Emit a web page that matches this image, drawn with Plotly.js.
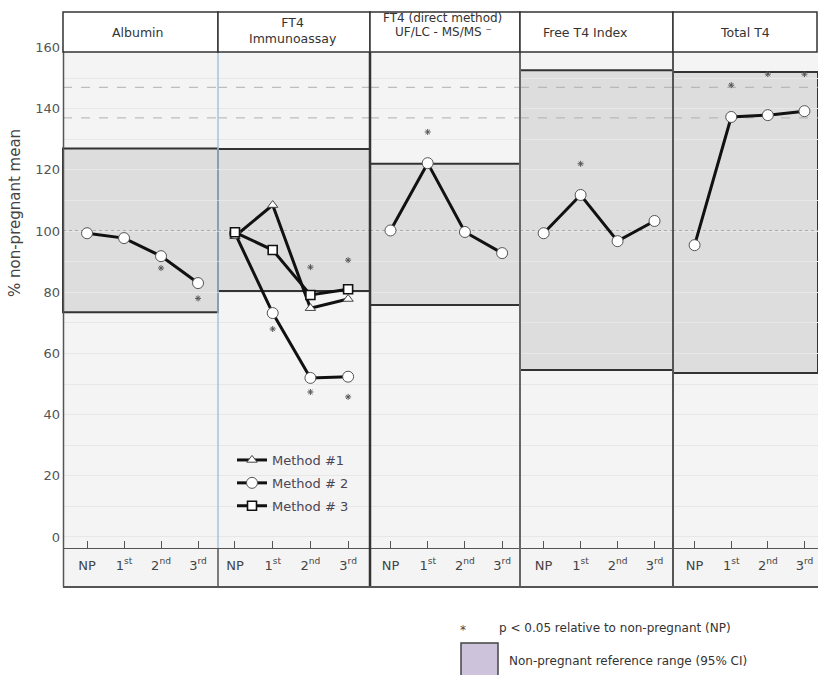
<!DOCTYPE html>
<html><head><meta charset="utf-8">
<script src="https://cdn.plot.ly/plotly-3.0.1.min.js"></script>
<style>html,body{margin:0;padding:0;background:#fff}#chart{width:818px;height:675px}</style>
</head><body><div id="chart"></div>
<script>
// ---- data ----
const stageIndex = [0, 1, 2, 3];
const stageLabels = ['NP', '1<sup>st</sup>', '2<sup>nd</sup>', '3<sup>rd</sup>'];
const methodNames = ['Method #1', 'Method # 2', 'Method # 3'];
const albumin = [99.3, 97.7, 91.8, 83.0];
const albuminSig = [null, null, 87.9, 78.0];
const ft4ImmMethod1 = [98.3, 108.5, 74.8, 77.8];
const ft4ImmMethod2 = [99.3, 73.2, 52.0, 52.4];
const ft4ImmMethod3 = [99.6, 93.8, 79.1, 81.0];
const ft4ImmSigUpper = [null, null, 88.2, 90.5];
const ft4ImmSigLower = [null, 68.0, 47.4, 45.8];
const ft4Direct = [100.2, 122.2, 99.7, 92.8];
const ft4DirectSig = [null, 132.4, null, null];
const freeT4Index = [99.3, 111.8, 96.7, 103.3];
const freeT4IndexSig = [null, 122.0, null, null];
const totalT4 = [95.4, 137.3, 137.9, 139.2];
const totalT4Sig = [null, 147.7, 151.3, 151.3];
const refLow = [73.5, 80.4, 75.8, 54.6, 53.6];
const refHigh = [127.0, 126.8, 122.0, 152.6, 152.0];
const yTicks = [0, 20, 40, 60, 80, 100, 120, 140, 160];

// ---- geometry (pixels -> paper) ----
const W = 818, H = 675, ML = 63, MR = 0, MT = 46, MB = 127;
const PW = W - ML - MR, PH = H - MT - MB;
const px = x => (x - ML) / PW;
const py = y => (H - MB - y) / PH;
const edges = [63, 218, 370, 520, 673, 818];
const xRanges = [[-0.65, 3.54], [-0.45, 3.58], [-0.55, 3.48], [-0.64, 3.5], [-0.59, 3.37]];
const FONT = 'DejaVu Sans';

const lineStyle = {color: '#111', width: 3};
const circ = {symbol: 'circle', size: 11, color: '#fff', line: {color: '#555', width: 1}};
const tri = {symbol: 'triangle-up', size: 9, color: '#fff', line: {color: '#444', width: 1}};
const sq = {symbol: 'square', size: 9, color: '#fff', line: {color: '#111', width: 1.6}};
const star = {symbol: 'asterisk-open', size: 5, color: '#555', line: {color: '#555', width: 1}};

function ser(xa, y, marker, name, legend) {
  return {x: stageIndex, y: y, xaxis: xa, yaxis: 'y', type: 'scatter', mode: 'lines+markers',
    line: lineStyle, marker: marker, name: name || '', showlegend: !!legend,
    legendgroup: name || undefined, hoverinfo: 'skip', cliponaxis: false};
}
function sig(xa, y) {
  return {x: stageIndex, y: y, xaxis: xa, yaxis: 'y', type: 'scatter', mode: 'markers',
    marker: star, showlegend: false, hoverinfo: 'skip', cliponaxis: false};
}

const traces = [
  ser('x', albumin, circ), sig('x', albuminSig),
  ser('x2', ft4ImmMethod1, tri, methodNames[0], true),
  ser('x2', ft4ImmMethod2, circ, methodNames[1], true),
  ser('x2', ft4ImmMethod3, sq, methodNames[2], true),
  sig('x2', ft4ImmSigUpper), sig('x2', ft4ImmSigLower),
  ser('x3', ft4Direct, circ), sig('x3', ft4DirectSig),
  ser('x4', freeT4Index, circ), sig('x4', freeT4IndexSig),
  ser('x5', totalT4, circ), sig('x5', totalT4Sig)
];

const layout = {
  width: W, height: H, margin: {l: ML, r: MR, t: MT, b: MB},
  paper_bgcolor: '#fff', plot_bgcolor: 'rgba(0,0,0,0)',
  font: {family: FONT, color: '#444'},
  showlegend: true,
  legend: {x: px(232), y: py(445), xanchor: 'left', yanchor: 'top', bgcolor: 'rgba(0,0,0,0)',
    font: {family: FONT, size: 13, color: '#4a4454'}, tracegroupgap: 3, itemwidth: 30},
  yaxis: {range: [-3.6, 160.5], tickvals: yTicks, showgrid: true, gridcolor: '#e7e7e7', gridwidth: 1,
    minor: {dtick: 10, showgrid: true, gridcolor: '#e7e7e7'},
    zeroline: false, showline: false, ticks: '', tickfont: {family: FONT, size: 13, color: '#555'},
    ticklabelstandoff: 2, fixedrange: true},
  shapes: [], annotations: []
};

for (let i = 0; i < 5; i++) {
  const k = i === 0 ? '' : String(i + 1);
  layout['xaxis' + k] = {
    domain: [px(edges[i]), px(edges[i + 1])], anchor: 'y', range: xRanges[i],
    tickvals: stageIndex, ticktext: stageLabels, showgrid: false, zeroline: false,
    showline: true, linecolor: '#555', linewidth: 1, ticks: 'inside', ticklen: 7, tickcolor: '#555', tickwidth: 1,
    tickfont: {family: FONT, size: 13, color: '#444'}, ticklabelstandoff: 5, fixedrange: true
  };
}

const S = layout.shapes;
// panel background
S.push({type: 'rect', xref: 'paper', yref: 'paper', x0: 0, x1: 1, y0: py(587), y1: 1,
  fillcolor: '#f4f4f4', line: {width: 0}, layer: 'below'});
// reference ranges and guide lines per panel
for (let i = 0; i < 5; i++) {
  const k = i === 0 ? '' : String(i + 1);
  S.push({type: 'rect', xref: 'x' + k + ' domain', yref: 'y', x0: 0, x1: 1, y0: refLow[i], y1: refHigh[i],
    fillcolor: '#dddddd', line: {color: '#333', width: 2}, layer: 'below'});
}
for (let i = 0; i < 5; i++) {
  const k = i === 0 ? '' : String(i + 1);
  [137, 147].forEach(v => S.push({type: 'line', xref: 'x' + k + ' domain', yref: 'y', x0: 0, x1: 1, y0: v, y1: v,
    line: {color: '#b0b0b0', width: 1, dash: 'dash'}, layer: 'below'}));
  S.push({type: 'line', xref: 'x' + k + ' domain', yref: 'y', x0: 0, x1: 1, y0: 100, y1: 100,
    line: {color: '#9a9a9a', width: 1.5, dash: 'dot'}, layer: 'below'});
}
// panel borders
const bottom = py(587);
S.push({type: 'line', xref: 'paper', yref: 'paper', x0: px(218), x1: px(218), y0: 0, y1: 1, line: {color: '#a9c3de', width: 1.5}});
S.push({type: 'line', xref: 'paper', yref: 'paper', x0: px(218), x1: px(218), y0: bottom, y1: 0, line: {color: '#555', width: 1.5}});
S.push({type: 'line', xref: 'paper', yref: 'paper', x0: px(370), x1: px(370), y0: bottom, y1: 1, line: {color: '#333', width: 2.5}});
S.push({type: 'line', xref: 'paper', yref: 'paper', x0: px(520), x1: px(520), y0: bottom, y1: 1, line: {color: '#666', width: 2}});
S.push({type: 'line', xref: 'paper', yref: 'paper', x0: px(673), x1: px(673), y0: bottom, y1: 1, line: {color: '#555', width: 2}});
S.push({type: 'line', xref: 'paper', yref: 'paper', x0: px(63.5), x1: px(63.5), y0: bottom, y1: 1, line: {color: '#555', width: 1.5}});
S.push({type: 'line', xref: 'paper', yref: 'paper', x0: 0, x1: 1, y0: bottom, y1: bottom, line: {color: '#555', width: 2}});
// header boxes
for (let i = 0; i < 5; i++) {
  S.push({type: 'rect', xref: 'paper', yref: 'paper', x0: px(edges[i]), x1: px(i === 4 ? 817 : edges[i + 1]),
    y0: py(52), y1: py(12), fillcolor: '#fff', line: {color: '#333', width: 1.5}, layer: 'above'});
}
// legend swatch
S.push({type: 'rect', xref: 'paper', yref: 'paper', x0: px(461), x1: px(498), y0: py(676), y1: py(643),
  fillcolor: '#cdc3db', line: {color: '#444', width: 1.5}});

const A = layout.annotations;
const hdr = (t, x, y, s) => A.push({text: t, xref: 'paper', yref: 'paper', x: px(x), y: py(y), showarrow: false,
  xanchor: 'center', yanchor: 'middle', font: {family: FONT, size: s || 12.5, color: '#333'}});
hdr('Albumin', 137, 32);
hdr('FT4<br>Immunoassay', 293, 30);
hdr('FT4 (direct method)', 442, 18, 12);
hdr('UF/LC - MS/MS \u207B', 443, 32, 12);
hdr('Free T4 Index', 585, 32);
hdr('Total T4', 745, 32);
A.push({text: '% non-pregnant mean', xref: 'paper', yref: 'paper', x: px(15), y: py(213), textangle: -90,
  showarrow: false, xanchor: 'center', yanchor: 'middle', font: {family: FONT, size: 15, color: '#444'}});
A.push({text: '*', xref: 'paper', yref: 'paper', x: px(463), y: py(630), showarrow: false,
  xanchor: 'center', yanchor: 'middle', font: {family: FONT, size: 12, color: '#444'}});
A.push({text: 'p &lt; 0.05 relative to non-pregnant (NP)', xref: 'paper', yref: 'paper', x: px(497), y: py(628),
  showarrow: false, xanchor: 'left', yanchor: 'middle', font: {family: FONT, size: 12, color: '#333'}});
A.push({text: 'Non-pregnant reference range (95% CI)', xref: 'paper', yref: 'paper', x: px(507), y: py(661),
  showarrow: false, xanchor: 'left', yanchor: 'middle', font: {family: FONT, size: 12, color: '#333'}});

Plotly.newPlot('chart', traces, layout, {staticPlot: true, displayModeBar: false});
</script></body></html>
